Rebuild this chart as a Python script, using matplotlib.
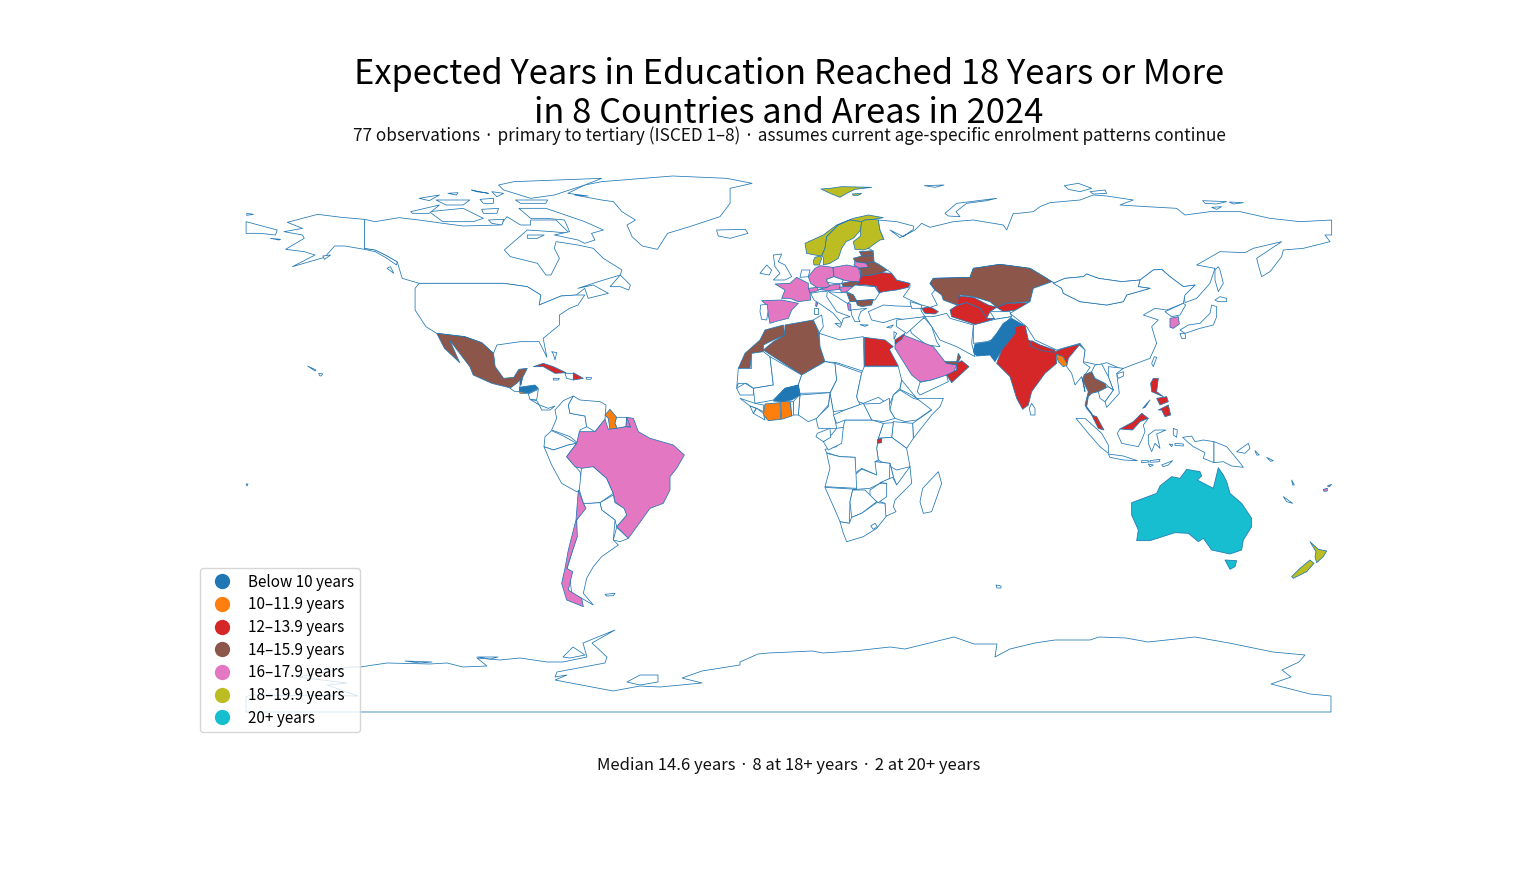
import numpy as np
import matplotlib
matplotlib.use("Agg")
import matplotlib.pyplot as plt
from matplotlib.lines import Line2D
from matplotlib.patches import Polygon

plt.rcParams['font.family'] = ['Noto Sans CJK KR', 'DejaVu Sans']

TITLE = "Expected Years in Education Reached 18 Years or More\nin 8 Countries and Areas in 2024"
SUBTITLE = "77 observations · primary to tertiary (ISCED 1–8) · assumes current age-specific enrolment patterns continue"
CAPTION = "Median 14.6 years · 8 at 18+ years · 2 at 20+ years"
LEGEND_LABELS = ["Below 10 years", "10–11.9 years", "12–13.9 years", "14–15.9 years",
                 "16–17.9 years", "18–19.9 years", "20+ years"]
BIN_EDGES = [10, 12, 14, 16, 18, 20]
BIN_COLORS = ["#1f77b4", "#ff7f0e", "#d62728", "#8c564b", "#e377c2", "#bcbd22", "#17becf"]

LOW_COUNTRIES = {"Pakistan": 8.5, "Burkina Faso": 9.2, "Honduras": 9.8}
MID_LOW_COUNTRIES = {"Bangladesh": 11.0, "Guyana": 11.5, "Ivory Coast": 10.9, "Ghana": 11.6, "El Salvador": 11.4}
RED_COUNTRIES = {"India": 13.0, "Nepal": 13.1, "Egypt": 13.4, "Oman": 13.7, "Jordan": 13.2, "Ukraine": 13.6,
                 "Uzbekistan": 12.6, "Turkmenistan": 12.8, "Kyrgyzstan": 13.3, "Azerbaijan": 13.5, "Cuba": 13.8,
                 "Dominican Republic": 13.6, "Philippines": 13.1, "Malaysia": 13.0, "Rwanda": 12.9, "Belize": 13.2}
BROWN_COUNTRIES = {"Mexico": 14.6, "Morocco": 14.4, "Algeria": 15.2, "Kazakhstan": 15.6, "Belarus": 15.4,
                   "Latvia": 15.8, "Estonia": 15.9, "Thailand": 14.9, "Bulgaria": 14.7, "Serbia": 15.0,
                   "Slovakia": 15.0, "United Arab Emirates": 15.5}
PINK_COUNTRIES = {"France": 16.2, "Spain": 17.9, "Germany": 17.5, "Poland": 16.3, "Austria": 16.6, "Switzerland": 17.0,
                  "Hungary": 16.1, "Lithuania": 16.9, "Moldova": 16.0, "Albania": 16.2, "Brazil": 16.4, "Chile": 17.2,
                  "Saudi Arabia": 16.8, "South Korea": 16.7, "Fiji": 16.5}
OLIVE_COUNTRIES = {"Sweden": 19.6, "Norway": 18.8, "Finland": 19.3, "Denmark": 19.0, "New Zealand": 18.9}
CYAN_COUNTRIES = {"Australia": 21.0}

# Digitising frames: left pixel, top pixel, x step, y step of each map sheet the outlines were read from
SHEETS = {"A": (740, 170, 1/3, 1/3), "B": (730, 320, 1/3, 1/3), "C": (1040, 170, 1/3, 1/3),
          "D": (1060, 350, 1/3, 1/3), "E": (420, 330, 1/3, 1/3), "F": (240, 170, 0.338, 1/3), "G": (0, 0, 1, 1)}

NORTH_AMERICA = [
 ("Alaska", "F", [(368,148),(368,235),(400,240),(430,255),(465,275),(463,285),(430,262),(400,245),(368,238),(310,228),(280,228),(250,262),(155,290),(222,255),(190,245),(135,238),(190,205),(185,195),(130,185),(185,175),(140,157),(230,133),(300,142)]),
 ("Canada", "F", [(368,148),(400,155),(470,143),(530,150),(600,160),(660,168),(770,165),(790,140),(830,165),(860,165),(860,150),(935,150),(975,190),(925,185),(850,180),(782,240),(800,260),(880,280),(905,315),(920,315),(945,265),(930,235),(935,215),(1000,225),(1045,235),(1075,265),(1130,300),(1125,315),(1060,335),(1000,355),(1045,345),(1090,370),(1030,385),(1020,355),(995,375),(950,378),(885,405),(890,375),(850,350),(780,340),(530,340),(480,325),(465,275),(430,255),(400,240),(368,235)]),
 ("United States", "F", [(530,340),(518,355),(518,420),(550,470),(582,490),(665,500),(715,518),(750,550),(760,525),(830,515),(885,515),(908,562),(897,505),(945,465),(945,435),(975,415),(1000,405),(1020,375),(995,375),(950,378),(885,405),(890,375),(850,350),(780,340)]),
 ("Mexico", "F", [(582,490),(665,500),(715,518),(750,550),(755,590),(780,625),(810,622),(825,598),(850,595),(835,625),(830,645),(805,655),(745,640),(690,615),(680,590),(620,510),(650,578),(605,535)]),
 ("Greenland", "F", [(990,75),(1070,90),(1105,95),(1130,125),(1170,150),(1145,165),(1160,200),(1190,228),(1235,238),(1265,190),(1330,170),(1420,140),(1450,100),(1450,55),(1515,40),(1440,25),(1280,18),(1070,35),(1020,45),(970,70),(1030,78)]),
 ("Iceland", "F", [(1410,180),(1495,178),(1503,190),(1450,205),(1415,198)]),
 ("Ellesmere", "F", [(810,35),(1070,25),(1020,45),(930,75),(860,85),(780,60),(765,45)]),
 ("Baffin", "F", [(905,115),(1020,155),(1075,180),(1040,190),(1050,210),(1020,220),(1000,210),(930,195),(975,185),(960,150),(905,145),(860,145),(825,115)]),
 ("Victoria", "F", [(560,125),(660,115),(720,145),(690,155),(600,155)]),
 ("Banks", "F", [(505,125),(590,105),(560,130),(510,130)]),
 ("Melville", "F", [(530,85),(590,75),(560,92)]),
 ("Bathurst", "F", [(580,90),(680,90),(660,105),(610,105)]),
 ("Sverdrup", "F", [(685,60),(735,70),(700,65)]),
 ("Devon", "F", [(815,90),(910,90),(905,100),(830,100)]),
 ("Prince of Wales", "F", [(715,118),(765,115),(760,130),(720,130)]),
 ("Cornwallis", "F", [(710,88),(750,85),(750,100),(720,100)]),
 ("Axel", "F", [(745,65),(780,70),(760,80)]),
 ("Borden", "F", [(615,70),(645,68),(640,75)]),
 ("King William", "F", [(735,150),(780,148),(775,165),(745,160)]),
 ("Southampton", "F", [(850,195),(900,195),(880,205),(850,205)]),
 ("Newfoundland", "F", [(1095,350),(1125,315),(1155,345),(1150,360),(1125,350)]),
 ("Vancouver Island", "F", [(435,295),(445,290),(455,310)]),
 ("Kodiak", "F", [(245,258),(268,255),(250,268)]),
 ("Aleutians", "F", [(90,205),(120,208),(115,210)]),
 ("Hawaii", "F", [(233,610),(245,612),(240,618),(235,617)]),
 ("Hawaii west", "F", [(200,588),(225,600),(222,603)]),
 ("Russia", "F", [(18,155),(110,180),(105,195),(60,190),(18,190)]),
 ("Wrangel east", "F", [(20,130),(40,133),(20,136)]),
]
CENTRAL_AMERICA_CARIBBEAN = [
 ("Guatemala", "E", [(270,175),(290,160),(300,150),(300,170),(298,185),(285,185)]),
 ("Belize", "E", [(302,145),(307,145),(303,165)]),
 ("Honduras", "E", [(298,172),(345,165),(355,175),(325,190),(300,185)]),
 ("El Salvador", "E", [(298,183),(320,190),(300,190)]),
 ("Nicaragua", "E", [(325,192),(355,178),(350,210),(330,208)]),
 ("Costa Rica", "E", [(330,208),(350,212),(358,225)]),
 ("Panama", "E", [(358,225),(385,235),(405,228),(390,240),(365,240)]),
 ("Cuba", "E", [(340,110),(370,100),(400,110),(438,128),(405,130),(370,110)]),
 ("Haiti", "E", [(435,130),(460,130),(460,150),(440,145)]),
 ("Dominican Republic", "E", [(460,128),(490,145),(460,150)]),
 ("Jamaica", "E", [(400,145),(418,145),(415,150),(400,150)]),
 ("Puerto Rico", "E", [(498,142),(515,143),(512,148),(500,148)]),
 ("Bahamas", "E", [(395,65),(410,68),(405,90),(400,72)]),
]
SOUTH_AMERICA = [
 ("Colombia", "E", [(405,240),(430,212),(460,198),(445,225),(450,250),(495,258),(500,290),(480,300),(475,340),(450,320),(395,300),(410,265)]),
 ("Venezuela", "E", [(460,198),(480,210),(540,215),(558,225),(555,268),(525,305),(500,290),(495,258),(450,250),(445,225)]),
 ("Guyana", "E", [(555,255),(570,238),(590,262),(585,280),(592,295),(570,300),(565,265)]),
 ("Suriname", "E", [(590,262),(620,262),(618,290),(592,295),(585,280)]),
 ("France", "E", [(620,262),(640,272),(630,290),(618,290)]),
 ("Ecuador", "E", [(375,320),(395,302),(430,318),(470,340),(445,345),(400,360),(372,350)]),
 ("Peru", "E", [(372,350),(400,360),(445,345),(470,340),(440,380),(480,425),(490,480),(470,485),(425,460),(395,405)]),
 ("Bolivia", "E", [(485,410),(520,410),(560,445),(580,490),(540,518),(510,520),(490,520),(478,480)]),
 ("Brazil", "E", [(440,380),(470,340),(478,305),(525,305),(555,268),(565,298),(590,295),(618,290),(632,292),(620,262),(640,265),(655,305),(690,325),(760,345),(793,375),(770,415),(750,440),(750,480),(730,520),(690,535),(665,570),(625,625),(590,590),(620,555),(610,535),(585,515),(580,490),(560,445),(520,410),(485,415),(465,410)]),
 ("Paraguay", "E", [(540,518),(580,495),(585,518),(612,535),(620,555),(590,590),(585,570),(545,540)]),
 ("Uruguay", "E", [(590,592),(625,625),(600,635),(580,630)]),
 ("Argentina", "E", [(490,520),(510,520),(540,518),(545,540),(585,570),(580,630),(595,645),(545,680),(520,710),(500,745),(490,790),(520,825),(485,805),(455,790),(450,745),(440,720),(470,620),(470,570),(495,530)]),
 ("Chile", "E", [(475,480),(490,520),(498,535),(470,570),(472,620),(440,715),(458,725),(445,780),(485,805),(490,830),(440,810),(425,760),(435,715),(445,660),(468,570)]),
 ("Falklands", "E", [(555,793),(585,790),(580,797),(560,798)]),
]
EUROPE = [
 ("Norway", "A", [(243,57),(270,55),(305,50),(395,52),(345,58),(320,70),(300,82),(275,72)]),
 ("Norway", "A", [(337,72),(365,70),(355,76),(340,76)]),
 ("Novaya Zemlya", "A", [(615,130),(650,100),(770,85),(740,92),(680,100),(648,125),(660,140),(625,138)]),
 ("Franz Josef", "A", [(553,47),(612,45),(585,52)]),
 ("Norway", "A", [(195,220),(250,195),(290,165),(340,145),(385,135),(430,143),(400,148),(375,150),(365,155),(330,150),(295,165),(260,200),(255,235),(245,258),(225,255),(200,250)]),
 ("Sweden", "A", [(295,165),(330,150),(365,155),(362,180),(340,205),(318,215),(305,235),(295,265),(270,280),(250,285),(250,262),(245,258),(255,235),(260,200)]),
 ("Finland", "A", [(365,155),(375,150),(400,148),(415,150),(420,180),(432,210),(400,230),(370,240),(345,238),(340,215),(362,198),(362,180)]),
 ("Denmark", "A", [(220,272),(225,262),(240,258),(245,265),(238,285),(222,285)]),
 ("Estonia", "A", [(358,245),(398,242),(400,258),(365,258)]),
 ("Latvia", "A", [(340,265),(365,258),(400,258),(402,275),(380,280),(345,275)]),
 ("Lithuania", "A", [(345,275),(380,280),(385,292),(355,295),(342,285)]),
 ("Belarus", "A", [(380,280),(402,275),(420,285),(442,300),(425,308),(395,315),(360,318),(362,302),(355,295),(385,292)]),
 ("Ukraine", "A", [(360,318),(395,315),(425,308),(455,310),(470,330),(510,340),(505,352),(470,360),(430,365),(415,370),(405,350),(380,345),(350,345),(358,330)]),
 ("Moldova", "A", [(395,347),(410,350),(418,368),(408,370),(405,360)]),
 ("Germany", "A", [(205,320),(225,295),(240,287),(278,292),(282,320),(260,328),(262,337),(272,350),(265,352),(230,352),(212,340)]),
 ("Poland", "A", [(280,292),(320,285),(355,292),(362,318),(358,335),(335,335),(310,330),(282,320)]),
 ("Czechia", "A", [(260,328),(282,320),(310,330),(305,340),(280,340),(262,337)]),
 ("Austria", "A", [(235,358),(262,352),(272,345),(300,342),(300,358),(265,362)]),
 ("Slovakia", "A", [(305,340),(330,335),(358,335),(345,350),(310,350)]),
 ("Hungary", "A", [(298,352),(310,350),(345,350),(335,362),(305,368)]),
 ("Switzerland", "A", [(205,355),(232,352),(235,362),(210,368)]),
 ("France", "A", [(105,342),(150,340),(170,322),(205,340),(205,355),(210,368),(212,390),(175,395),(150,385),(125,385),(135,360)]),
 ("France", "A", [(228,397),(233,400),(230,410),(227,408)]),
 ("Spain", "A", [(65,392),(125,390),(150,395),(175,400),(155,420),(145,445),(105,455),(90,460),(82,420),(80,405)]),
 ("Portugal", "A", [(62,405),(82,403),(84,425),(80,450),(65,448),(60,425)]),
 ("Benelux", "A", [(185,300),(210,300),(205,320),(180,322)]),
 ("United Kingdom", "A", [(100,255),(125,252),(115,275),(135,285),(155,320),(135,330),(100,330),(120,310),(105,290)]),
 ("Ireland", "A", [(60,310),(80,285),(95,300),(88,315)]),
 ("Italy", "A", [(212,370),(240,365),(262,365),(260,380),(290,425),(330,440),(310,445),(305,460),(280,430),(245,405),(222,390)]),
 ("Sardinia", "A", [(222,415),(235,415),(235,432),(222,432)]),
 ("Sicily", "A", [(285,460),(305,462),(300,472)]),
 ("Crete", "A", [(360,464),(385,465),(375,469)]),
 ("Cyprus", "A", [(440,472),(460,465),(452,474)]),
 ("Romania", "A", [(345,345),(405,350),(418,370),(405,390),(350,392),(340,375),(320,365)]),
 ("Serbia", "A", [(320,368),(340,375),(350,395),(330,395)]),
 ("Bulgaria", "A", [(348,392),(400,388),(395,405),(365,410),(352,405)]),
 ("Albania", "A", [(322,400),(332,402),(333,422),(325,420)]),
 ("Greece", "A", [(333,420),(380,415),(362,425),(355,445),(360,455),(345,455),(335,435)]),
 ("Balkans", "A", [(265,365),(300,368),(320,368),(330,395),(322,400),(290,380)]),
 ("Turkey", "A", [(385,425),(430,405),(470,408),(540,410),(545,425),(555,440),(500,450),(470,445),(430,458),(395,450)]),
 ("Georgia", "A", [(510,395),(545,405),(545,415),(515,415)]),
 ("Azerbaijan", "A", [(545,415),(570,410),(595,425),(585,432),(555,430)]),
 ("Russia", "A", [(415,150),(470,155),(520,168),(520,178),(490,200),(450,180),(480,203),(525,180),(545,160),(570,172),(640,155),(700,150),(790,165),(800,180),(820,130),(835,130),(880,125),(900,110),(930,98),(1020,90),(1060,75),(1100,78),(1180,90),(1140,105),(1220,110),(1310,115),(1335,135),(1410,125),(1500,125),(1590,145),(1680,155),(1775,150),(1775,195),(1755,195),(1770,215),(1690,235),(1630,240),(1625,260),(1590,305),(1565,320),(1555,285),(1550,265),(1625,215),(1540,235),(1515,248),(1440,245),(1370,285),(1425,295),(1410,340),(1370,385),(1335,398),(1333,375),(1365,345),(1330,350),(1290,320),(1265,298),(1240,300),(1200,330),(1145,335),(1075,325),(1040,312),(1030,320),(975,325),(940,340),(920,325),(870,295),(780,283),(700,295),(690,322),(580,325),(570,340),(585,360),(575,372),(592,405),(570,412),(545,405),(510,390),(490,380),(510,352),(510,340),(470,330),(455,310),(442,300),(420,285),(402,275),(400,243),(385,235),(420,210),(432,208),(420,180)]),
]
ASIA = [
 ("Kazakhstan", "A", [(570,340),(580,325),(690,322),(700,295),(780,283),(870,295),(920,325),(936,335),(880,355),(870,395),(800,400),(770,412),(750,395),(700,380),(660,375),(650,405),(610,390),(605,375),(585,360)]),
 ("Uzbekistan", "A", [(652,405),(655,378),(700,382),(745,405),(770,412),(750,425),(740,445),(720,415),(680,398)]),
 ("Turkmenistan", "A", [(630,420),(650,407),(680,398),(720,415),(740,445),(765,445),(710,465),(680,455),(635,440)]),
 ("Kyrgyzstan", "A", [(770,412),(800,400),(870,398),(830,420),(790,425)]),
 ("Tajikistan", "A", [(750,425),(775,425),(810,425),(815,440),(765,448)]),
 ("Afghanistan", "A", [(700,465),(765,448),(815,440),(790,465),(770,505),(740,515),(700,520)]),
 ("Iran", "A", [(555,440),(580,440),(620,430),(630,445),(700,465),(695,520),(705,560),(650,530),(600,510),(575,470)]),
 ("Iraq", "A", [(500,455),(555,445),(575,470),(590,515),(600,530),(560,525),(515,490)]),
 ("Syria", "A", [(470,450),(555,440),(500,490),(470,470)]),
 ("Pakistan", "B", [(735,72),(780,65),(800,40),(820,10),(845,-5),(880,15),(860,22),(855,40),(815,90),(795,125),(780,105),(740,108),(730,95)]),
 ("India", "B", [(855,20),(885,15),(895,60),(975,95),(1000,85),(1050,72),(1057,85),(1020,115),(1015,135),(1000,115),(978,105),(980,130),(945,160),(905,215),(895,255),(878,268),(860,235),(840,170),(800,130),(815,90),(855,40)]),
 ("Nepal", "B", [(905,62),(930,75),(975,90),(975,97),(935,92),(900,78)]),
 ("Bangladesh", "B", [(978,102),(1000,110),(1013,135),(1000,140),(985,125)]),
 ("Sri Lanka", "B", [(905,250),(915,265),(915,285),(902,285),(898,265)]),
 ("China", "C", [(36,335),(-20,355),(-30,395),(-90,430),(-40,470),(-15,510),(50,540),(120,520),(135,540),(130,575),(175,585),(200,578),(245,597),(290,580),(330,565),(350,520),(335,470),(355,450),(310,435),(345,415),(380,420),(430,400),(435,375),(465,345),(430,350),(390,320),(365,298),(340,300),(300,330),(295,350),(330,355),(260,375),(250,395),(200,405),(120,395),(70,370),(65,355)]),
 ("Mongolia", "C", [(40,340),(75,325),(130,320),(140,312),(175,325),(245,335),(300,330),(295,350),(330,355),(260,375),(250,395),(200,405),(120,395),(70,370),(65,355)]),
 ("North Korea", "C", [(375,425),(430,400),(437,405),(420,435),(395,440)]),
 ("South Korea", "C", [(390,445),(415,440),(418,462),(400,475),(390,472)]),
 ("Honshu", "C", [(420,480),(445,465),(480,460),(510,430),(515,405),(530,410),(530,440),(520,465),(480,475),(435,490)]),
 ("Kyushu", "C", [(420,490),(435,490),(437,505),(425,505)]),
 ("Hokkaido", "C", [(525,390),(540,380),(560,385),(560,395),(535,395)]),
 ("Sakhalin", "C", [(535,290),(540,300),(550,340),(535,365),(525,330),(525,300)]),
 ("Taiwan", "C", [(343,560),(350,562),(340,590),(335,580)]),
 ("Hainan", "C", [(230,612),(250,605),(250,618),(235,625)]),
 ("Severnaya", "C", [(73,47),(115,40),(155,55),(120,65),(85,58)]),
 ("Severnaya south", "C", [(150,65),(195,60),(200,70),(160,72)]),
 ("New Siberian", "C", [(488,92),(560,95),(530,102),(495,100)]),
 ("New Siberian east", "C", [(568,96),(610,98),(580,102)]),
 ("Bennett", "C", [(515,112),(545,110),(530,118)]),
 ("Myanmar", "C", [(118,525),(135,540),(130,578),(150,592),(128,625),(135,665),(125,620),(105,645),(95,610),(80,590),(85,565)]),
 ("Saudi Arabia", "B", [(495,75),(520,45),(610,80),(645,125),(680,135),(670,160),(605,180),(570,185),(545,165),(495,85)]),
 ("Yemen", "B", [(570,187),(605,180),(650,165),(655,185),(570,225),(562,215)]),
 ("Oman", "B", [(650,165),(680,150),(680,130),(695,122),(717,140),(690,165),(665,188)]),
 ("United Arab Emirates", "B", [(645,125),(680,125),(685,100),(692,112),(680,135),(650,130)]),
 ("Jordan", "B", [(495,60),(525,40),(515,58),(495,72)]),
 ("Lebanon", "B", [(492,35),(500,40),(492,58)]),
]
SOUTHEAST_ASIA_OCEANIA = [
 ("Thailand", "D", [(72,75),(95,65),(105,85),(135,100),(140,115),(115,125),(95,130),(85,140),(80,170),(95,190),(100,200),(80,175),(75,165),(85,125),(70,95)]),
 ("Malaysia", "D", [(95,195),(110,200),(132,240),(115,235)]),
 ("Malaysia", "D", [(180,237),(220,215),(245,190),(265,205),(240,215),(218,240),(185,245)]),
 ("Vietnam", "D", [(145,50),(190,55),(170,70),(178,130),(140,172),(135,155),(160,120),(145,80)]),
 ("Cambodia", "D", [(115,125),(145,110),(160,120),(135,155),(120,145)]),
 ("Laos", "D", [(105,45),(125,42),(145,80),(160,120),(145,110),(135,100),(105,85),(95,65)]),
 ("Philippines", "D", [(280,85),(295,85),(290,125),(310,140),(275,125),(272,100)]),
 ("Philippines", "D", [(295,180),(325,165),(332,195),(315,200),(305,180)]),
 ("Philippines", "D", [(290,145),(320,140),(325,155),(300,165)]),
 ("Philippines", "D", [(248,175),(270,150),(255,172)]),
 ("Borneo", "D", [(180,237),(218,240),(240,215),(265,205),(250,225),(255,245),(245,270),(235,290),(185,280),(172,250)]),
 ("Sumatra", "D", [(48,205),(75,205),(125,250),(145,285),(145,310),(120,290),(85,250)]),
 ("Java", "D", [(145,312),(190,318),(232,332),(190,330),(150,322)]),
 ("Sulawesi", "D", [(265,255),(285,240),(318,240),(290,252),(300,295),(285,280),(275,305),(265,280)]),
 ("Bali", "D", [(245,332),(265,332),(268,336),(245,338)]),
 ("Flores", "D", [(270,332),(300,328),(298,335),(272,337)]),
 ("Timor", "D", [(305,345),(338,332),(325,345),(310,350)]),
 ("Sumba", "D", [(265,342),(280,345),(270,350)]),
 ("Halmahera", "D", [(340,235),(352,240),(350,262),(340,255)]),
 ("Buru", "D", [(328,282),(338,284),(335,290)]),
 ("Seram", "D", [(345,280),(370,282),(370,288),(345,286)]),
 ("Papua", "D", [(368,262),(395,258),(405,275),(430,270),(462,275),(462,338),(430,325),(435,308),(400,290),(385,278)]),
 ("Papua New Guinea", "D", [(462,275),(500,290),(525,320),(545,345),(550,352),(515,348),(490,335),(462,338)]),
 ("New Britain", "D", [(530,305),(565,280),(570,295),(555,310)]),
 ("Bougainville", "D", [(585,302),(598,315),(590,315)]),
 ("Solomons", "D", [(620,322),(640,332),(632,334)]),
 ("New Caledonia", "D", [(670,440),(698,460),(680,455)]),
 ("Vanuatu", "D", [(695,390),(703,405),(698,405)]),
 ("Fiji", "D", [(790,418),(802,415),(802,423),(792,424)]),
 ("Fiji", "D", [(802,408),(815,403),(808,410)]),
 ("Australia", "D", [(215,458),(250,445),(290,430),(300,408),(335,380),(360,385),(380,358),(420,365),(425,378),(412,390),(460,415),(475,353),(490,375),(500,395),(510,430),(545,460),(575,505),(575,530),(550,570),(545,600),(510,612),(455,600),(430,565),(415,575),(385,550),(345,548),(270,572),(230,572),(235,540),(215,495)]),
 ("Australia", "D", [(495,630),(530,632),(525,650),(510,658)]),
 ("New Zealand", "D", [(750,575),(775,598),(800,603),(790,620),(770,638),(765,620),(768,605)]),
 ("New Zealand", "D", [(695,680),(720,655),(750,630),(762,640),(740,665),(700,685)]),
]
AFRICA = [
 ("Morocco", "B", [(25,145),(45,100),(90,60),(105,30),(160,15),(165,45),(130,60),(100,75),(100,95),(65,100),(60,145)]),
 ("Algeria", "B", [(165,15),(250,0),(265,35),(270,80),(285,125),(215,165),(100,90),(130,65),(165,45)]),
 ("Tunisia", "B", [(250,0),(275,-15),(280,20),(268,38)]),
 ("Libya", "B", [(268,40),(330,60),(400,50),(403,155),(320,128),(285,125),(270,80)]),
 ("Egypt", "B", [(403,52),(465,60),(490,80),(478,88),(505,138),(403,138)]),
 ("Mauritania", "B", [(25,145),(65,145),(65,100),(100,95),(120,110),(130,195),(70,205),(50,190),(25,190),(20,205)]),
 ("Mali", "B", [(120,110),(215,165),(205,195),(165,205),(130,240),(105,245),(75,250),(70,205),(130,195)]),
 ("Niger", "B", [(215,165),(285,125),(315,130),(320,180),(300,218),(210,220),(205,195)]),
 ("Chad", "B", [(315,130),(395,158),(380,230),(390,255),(345,270),(310,275),(300,220),(320,180)]),
 ("Sudan", "B", [(395,158),(403,140),(505,140),(515,180),(510,205),(490,225),(478,255),(445,232),(400,250),(385,245),(380,230)]),
 ("South Sudan", "B", [(400,252),(450,250),(478,235),(480,270),(495,295),(460,305),(425,300)]),
 ("Ethiopia", "B", [(490,225),(510,210),(550,235),(570,240),(610,265),(560,300),(525,305),(495,295),(480,270)]),
 ("Eritrea", "B", [(515,180),(560,235),(545,225),(510,208)]),
 ("Somalia", "B", [(560,235),(640,235),(630,260),(605,285),(550,355),(548,310),(605,270)]),
 ("Kenya", "B", [(490,305),(548,310),(550,355),(530,385),(485,352)]),
 ("Uganda", "B", [(460,310),(490,308),(485,352),(445,355)]),
 ("Tanzania", "B", [(445,355),(485,352),(530,385),(540,440),(500,450),(445,420),(440,385)]),
 ("DR Congo", "B", [(345,300),(425,300),(460,310),(445,355),(440,385),(445,420),(435,425),(480,430),(440,465),(395,445),(375,460),(375,412),(330,410),(290,398),(285,388),(320,380),(340,320)]),
 ("Rwanda", "B", [(443,358),(455,355),(455,368),(443,370)]),
 ("Congo", "B", [(320,325),(340,322),(335,370),(295,390),(280,365),(300,350)]),
 ("Gabon", "B", [(262,340),(300,325),(302,352),(280,365),(258,350)]),
 ("Cameroon", "B", [(300,220),(310,275),(320,325),(265,325),(258,295),(295,260)]),
 ("Central African Republic", "B", [(310,285),(345,270),(400,250),(425,300),(345,300),(320,310)]),
 ("Nigeria", "B", [(210,225),(300,218),(295,255),(260,295),(235,305),(205,285)]),
 ("Benin", "B", [(190,245),(210,222),(205,285),(190,285)]),
 ("Togo", "B", [(182,245),(190,245),(190,285),(184,287)]),
 ("Burkina Faso", "B", [(130,243),(165,205),(205,195),(210,225),(185,240),(155,245)]),
 ("Ghana", "B", [(152,245),(180,245),(185,288),(155,298)]),
 ("Ivory Coast", "B", [(105,252),(150,248),(152,298),(115,302),(100,285)]),
 ("Senegal", "B", [(20,205),(45,190),(70,205),(70,225),(30,225)]),
 ("Guinea", "B", [(30,235),(75,250),(100,255),(100,275),(80,265),(60,258)]),
 ("Sierra Leone", "B", [(60,258),(78,265),(70,280)]),
 ("Liberia", "B", [(70,280),(80,265),(100,280),(105,300)]),
 ("Angola", "B", [(290,400),(330,410),(375,412),(378,460),(395,460),(380,505),(285,500),(300,445)]),
 ("Zambia", "B", [(378,462),(395,447),(440,465),(435,425),(480,430),(490,470),(450,490),(420,505),(380,508)]),
 ("Malawi", "B", [(480,430),(490,470),(500,495),(488,495),(478,470)]),
 ("Mozambique", "B", [(540,440),(545,490),(495,540),(490,560),(498,575),(465,590),(465,550),(450,545),(470,490),(450,488),(488,472),(500,495)]),
 ("Zimbabwe", "B", [(420,510),(450,490),(470,490),(470,530),(445,548),(420,530)]),
 ("Namibia", "B", [(285,502),(380,508),(368,510),(360,545),(358,610),(330,605),(315,570)]),
 ("Botswana", "B", [(368,510),(405,510),(440,545),(395,580),(365,592),(360,545)]),
 ("South Africa", "B", [(330,605),(358,610),(365,592),(395,580),(440,548),(465,550),(468,590),(440,625),(400,650),(350,665),(340,640)]),
 ("Lesotho", "B", [(422,618),(435,610),(442,620),(430,628)]),
 ("Madagascar", "B", [(625,455),(635,490),(605,575),(580,580),(570,545),(578,505)]),
]
ANTARCTICA = [
 ("Antarctica", "G", [(640,686),(660,687),(702,683),(682,678),(702,671),(740,665),(740,662),(758,654),(769,653),(812,651),(823,653),(854,651),(890,647),(905,649),(954,637),(974,644),(997,644),(995,657),(1010,649),(1035,643),(1055,640),(1090,640),(1099,637),(1126,638),(1148,642),(1195,637),(1229,643),(1273,652),(1305,655),(1299,662),(1282,670),(1291,677),(1271,684),(1310,694),(1331,696),(1331,712),(246,712),(246,697),(250,695),(358,696),(327,685),(347,683),(297,677),(310,675),(350,667),(360,667),(387,663),(430,664),(447,663),(463,667),(487,666),(477,658),(500,660),(520,658),(547,662),(563,662),(587,657),(583,643),(615,630),(592,643),(607,657),(605,663),(557,672),(555,677),(567,675),(555,680),(613,691)]),
 ("Ronne island", "G", [(627,682),(640,675),(658,675),(658,682),(640,685)]),
 ("Alexander", "G", [(563,657),(573,647),(585,655),(570,658)]),
 ("Ice shelf west", "G", [(405,661),(432,662),(420,663)]),
 ("Ice shelf east", "G", [(477,657),(498,657),(490,659)]),
 ("Kerguelen", "G", [(996,585),(1001,586),(1001,588),(997,588)]),
 ("Pacific dot", "G", [(246,484),(248,484),(247,486)]),
]

ALL_YEARS = {}
for group in (LOW_COUNTRIES, MID_LOW_COUNTRIES, RED_COUNTRIES, BROWN_COUNTRIES,
              PINK_COUNTRIES, OLIVE_COUNTRIES, CYAN_COUNTRIES):
    ALL_YEARS.update(group)


def to_degrees(sheet, points):
    left, top, sx, sy = SHEETS[sheet]
    pts = np.array(points, dtype=float)
    px = left + pts[:, 0] * sx
    py = top + pts[:, 1] * sy
    return np.column_stack(((px - 246) / 3.0167 - 180, (440.5 - py) / 3.0167))


def face_for(name):
    if name in ALL_YEARS:
        return BIN_COLORS[int(np.digitize(ALL_YEARS[name], BIN_EDGES))]
    return "white"


fig = plt.figure(figsize=(15.4, 8.8), dpi=100, facecolor="white")
ax = fig.add_axes([246 / 1540, (880 - 712) / 880, 1086 / 1540, 535 / 880])
ax.set_xlim(-180, 180)
ax.set_ylim(-90, (440.5 - 177) / 3.0167)
ax.axis("off")

for group in (ANTARCTICA, NORTH_AMERICA, EUROPE, ASIA, AFRICA, CENTRAL_AMERICA_CARIBBEAN, SOUTH_AMERICA, SOUTHEAST_ASIA_OCEANIA):
    for name, sheet, points in group:
        ax.add_patch(Polygon(to_degrees(sheet, points), closed=True, facecolor=face_for(name),
                             edgecolor="#1f77b4", linewidth=0.55, joinstyle="round", clip_on=False))

handles = [Line2D([], [], linestyle="none", marker="o", markersize=11, color=c, markeredgewidth=0) for c in BIN_COLORS]
fig.legend(handles, LEGEND_LABELS, loc="lower left", bbox_to_anchor=(200 / 1540, (880 - 732) / 880),
           borderaxespad=0, fontsize=11, framealpha=0.8, edgecolor="0.8", labelspacing=0.37,
           handletextpad=0.6, borderpad=0.35, handlelength=2.2)

fig.text(789 / 1540, 1 - 94 / 880, TITLE, ha="center", va="center", fontsize=24.8, linespacing=1.17,
         color="black", fontweight=300)
fig.text(789 / 1540, 1 - 136 / 880, SUBTITLE, ha="center", va="center", fontsize=12.37, color="#111111")
fig.text(789 / 1540, 1 - 765 / 880, CAPTION, ha="center", va="center", fontsize=11.97, color="#111111")

fig.savefig("out.png", dpi=100, facecolor="white")
